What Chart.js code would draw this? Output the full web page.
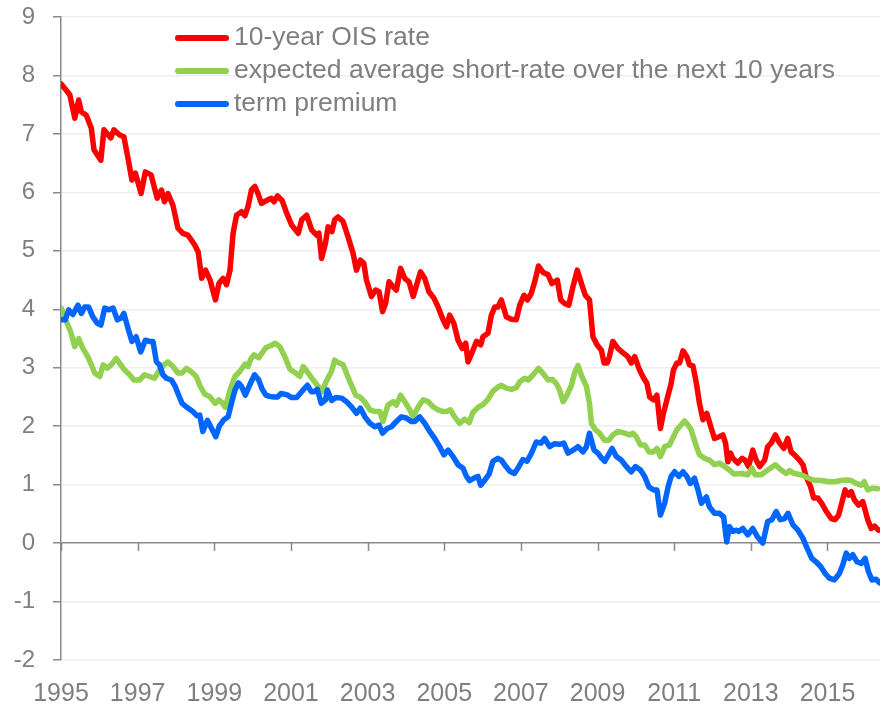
<!DOCTYPE html>
<html>
<head>
<meta charset="utf-8">
<script src="https://cdn.jsdelivr.net/npm/chart.js@4/dist/chart.umd.min.js"></script>
<style>
  html, body { margin: 0; padding: 0; background: #ffffff; }
  #c { display: block; }
</style>
</head>
<body>
<canvas id="c" width="885" height="704"></canvas>
<script>
// ---- series labels ----
const seriesLabels = ['10-year OIS rate', 'expected average short-rate over the next 10 years', 'term premium'];

// ---- x-axis tick labels (years) ----
const xTickYears = [1995, 1997, 1999, 2001, 2003, 2005, 2007, 2009, 2011, 2013, 2015];

// ---- 10-year OIS rate ----
const redDates = [
  1995.01,1995.23,1995.36,1995.46,1995.53,1995.66,1995.79,1995.86,
  1996.04,1996.12,1996.30,1996.38,1996.53,1996.64,1996.75,1996.85,1996.94,
  1997.09,1997.20,1997.35,1997.51,1997.62,1997.70,1997.79,1997.92,
  1998.05,1998.18,1998.31,1998.49,1998.58,1998.67,1998.77,1998.89,
  1999.03,1999.12,1999.23,1999.32,1999.41,1999.49,1999.58,1999.71,1999.80,1999.88,1999.97,
  2000.06,2000.14,2000.23,2000.36,2000.49,2000.56,2000.65,2000.77,2000.89,
  2001.02,2001.19,2001.28,2001.41,2001.54,2001.67,2001.73,2001.80,2001.90,2001.97,
  2002.07,2002.14,2002.23,2002.36,2002.49,2002.62,2002.71,2002.81,2002.90,2002.97,
  2003.10,2003.21,2003.30,2003.39,2003.47,2003.56,2003.66,2003.75,2003.86,2003.97,
  2004.08,2004.19,2004.29,2004.38,2004.49,2004.60,2004.73,2004.84,2004.95,
  2005.06,2005.14,2005.25,2005.36,2005.47,2005.56,2005.62,2005.72,2005.84,2005.95,
  2006.01,2006.14,2006.23,2006.32,2006.40,2006.49,2006.62,2006.75,2006.88,2006.97,
  2007.08,2007.17,2007.27,2007.36,2007.46,2007.58,2007.71,2007.81,2007.95,
  2008.04,2008.14,2008.25,2008.36,2008.47,2008.58,2008.68,2008.79,2008.88,2008.99,
  2009.10,2009.17,2009.25,2009.31,2009.40,2009.53,2009.66,2009.79,2009.88,2009.97,
  2010.08,2010.18,2010.29,2010.36,2010.46,2010.55,2010.64,2010.72,2010.84,2010.92,2010.98,
  2011.07,2011.14,2011.23,2011.33,2011.40,2011.49,2011.58,2011.66,2011.75,2011.85,2011.97,
  2012.05,2012.17,2012.27,2012.34,2012.40,2012.47,2012.53,2012.66,2012.77,2012.85,2012.94,
  2013.05,2013.14,2013.23,2013.36,2013.44,2013.53,2013.64,2013.75,2013.86,2013.96,
  2014.05,2014.14,2014.27,2014.36,2014.44,2014.56,2014.64,2014.75,2014.85,2014.97,
  2015.10,2015.20,2015.29,2015.37,2015.46,2015.55,2015.62,2015.70,2015.81,2015.92,2015.98,
  2016.05,2016.14,2016.23,2016.33
];
const redValues = [
  7.85,7.67,7.27,7.58,7.38,7.32,7.10,6.73,
  6.55,7.07,6.93,7.07,6.98,6.95,6.58,6.21,6.33,
  5.98,6.35,6.30,5.90,6.04,5.84,5.98,5.78,
  5.39,5.30,5.27,5.10,4.98,4.53,4.67,4.50,
  4.16,4.44,4.53,4.42,4.67,5.30,5.61,5.67,5.60,5.76,6.04,
  6.10,5.98,5.81,5.86,5.90,5.84,5.94,5.86,5.64,
  5.44,5.30,5.53,5.61,5.36,5.27,5.30,4.87,5.13,5.41,
  5.33,5.53,5.58,5.50,5.24,4.96,4.67,4.84,4.79,4.50,
  4.22,4.33,4.30,3.96,4.10,4.47,4.39,4.33,4.70,4.53,
  4.47,4.22,4.44,4.64,4.53,4.30,4.19,4.04,3.85,
  3.70,3.90,3.76,3.47,3.33,3.42,3.10,3.25,3.45,3.39,
  3.53,3.59,3.90,4.04,4.04,4.16,3.87,3.83,3.82,4.07,
  4.24,4.16,4.27,4.47,4.74,4.63,4.59,4.44,4.50,
  4.16,4.10,4.07,4.39,4.67,4.44,4.24,4.16,3.53,3.39,
  3.30,3.08,3.08,3.19,3.45,3.33,3.26,3.19,3.08,3.19,
  2.99,2.85,2.73,2.50,2.45,2.53,1.96,2.22,2.53,2.73,2.96,
  3.08,3.08,3.29,3.19,3.05,3.03,2.73,2.39,2.11,2.22,1.96,
  1.79,1.82,1.85,1.71,1.39,1.54,1.45,1.37,1.45,1.42,1.31,
  1.59,1.42,1.31,1.42,1.65,1.71,1.85,1.71,1.62,1.79,
  1.56,1.51,1.42,1.34,1.14,0.96,0.77,0.77,0.68,0.54,
  0.42,0.40,0.48,0.68,0.91,0.82,0.88,0.74,0.65,0.71,0.57,
  0.40,0.25,0.29,0.22
];

// ---- expected average short-rate over the next 10 years ----
const greenDates = [
  1995.01,1995.14,1995.25,1995.36,1995.46,1995.57,1995.70,1995.79,1995.88,
  1996.01,1996.10,1996.21,1996.31,1996.44,1996.56,1996.66,1996.79,1996.90,
  1997.05,1997.18,1997.31,1997.44,1997.57,1997.69,1997.79,1997.92,
  1998.05,1998.16,1998.27,1998.40,1998.53,1998.62,1998.75,1998.89,
  1999.02,1999.12,1999.22,1999.29,1999.41,1999.54,1999.67,1999.80,1999.88,1999.95,
  2000.04,2000.16,2000.34,2000.48,2000.59,2000.71,2000.84,2000.97,
  2001.10,2001.23,2001.32,2001.45,2001.58,2001.71,2001.81,2001.93,
  2002.06,2002.14,2002.20,2002.36,2002.54,2002.69,2002.80,2002.92,
  2003.06,2003.19,2003.32,2003.40,2003.53,2003.67,2003.75,2003.86,2003.97,
  2004.10,2004.19,2004.32,2004.45,2004.58,2004.71,2004.84,2004.97,
  2005.06,2005.16,2005.27,2005.40,2005.53,2005.65,2005.75,2005.88,
  2006.01,2006.14,2006.27,2006.40,2006.49,2006.62,2006.75,2006.88,2006.97,
  2007.10,2007.19,2007.32,2007.46,2007.58,2007.71,2007.83,2007.93,
  2008.01,2008.10,2008.18,2008.32,2008.40,2008.49,2008.59,2008.71,2008.79,2008.84,2008.94,
  2009.05,2009.18,2009.30,2009.40,2009.53,2009.71,2009.84,2009.92,
  2010.01,2010.12,2010.23,2010.34,2010.46,2010.55,2010.64,2010.75,2010.88,2010.98,
  2011.07,2011.18,2011.27,2011.36,2011.44,2011.58,2011.66,2011.79,2011.92,
  2012.05,2012.18,2012.31,2012.44,2012.57,2012.75,2012.92,
  2013.03,2013.11,2013.27,2013.44,2013.64,2013.79,2013.92,
  2014.01,2014.14,2014.31,2014.44,2014.62,2014.84,
  2015.05,2015.18,2015.36,2015.49,2015.62,2015.75,2015.88,2015.96,
  2016.05,2016.18,2016.31
];
const greenValues = [
  4.02,3.79,3.62,3.36,3.50,3.33,3.19,3.05,2.91,
  2.85,3.05,2.99,3.05,3.16,3.05,2.96,2.88,2.79,
  2.79,2.88,2.85,2.82,2.96,3.05,3.10,3.02,
  2.91,2.91,2.99,2.93,2.85,2.70,2.55,2.50,
  2.39,2.45,2.39,2.32,2.62,2.85,2.94,3.06,3.02,3.15,
  3.22,3.17,3.34,3.38,3.42,3.36,3.19,2.98,
  2.92,2.85,3.02,2.91,2.79,2.68,2.59,2.78,
  2.94,3.13,3.10,3.05,2.76,2.53,2.50,2.42,
  2.28,2.25,2.25,2.08,2.36,2.42,2.36,2.53,2.42,
  2.28,2.16,2.33,2.45,2.42,2.33,2.28,2.25,
  2.25,2.28,2.16,2.05,2.12,2.06,2.24,2.32,
  2.37,2.46,2.60,2.67,2.70,2.65,2.63,2.66,2.76,
  2.82,2.79,2.88,2.99,2.90,2.79,2.80,2.72,
  2.62,2.42,2.50,2.70,2.91,3.04,2.85,2.68,2.39,2.05,1.94,
  1.88,1.76,1.76,1.85,1.91,1.88,1.85,1.88,
  1.82,1.68,1.68,1.56,1.56,1.62,1.48,1.65,1.68,1.82,
  1.94,2.02,2.09,2.02,1.94,1.65,1.51,1.45,1.42,
  1.34,1.37,1.31,1.25,1.18,1.19,1.17,
  1.28,1.17,1.17,1.25,1.34,1.25,1.19,
  1.24,1.19,1.17,1.13,1.08,1.07,
  1.05,1.05,1.07,1.08,1.07,1.02,0.99,1.05,
  0.91,0.94,0.93
];

// ---- term premium ----
const blueDates = [
  1995.01,1995.11,1995.20,1995.31,1995.44,1995.53,1995.62,1995.72,1995.83,1995.95,
  1996.04,1996.14,1996.24,1996.36,1996.47,1996.57,1996.64,1996.75,1996.85,1996.96,
  1997.08,1997.20,1997.31,1997.40,1997.49,1997.57,1997.66,1997.75,1997.88,1997.98,
  1998.07,1998.16,1998.31,1998.44,1998.55,1998.62,1998.70,1998.82,1998.93,
  1999.04,1999.13,1999.25,1999.36,1999.45,1999.54,1999.63,1999.71,1999.81,1999.92,
  2000.05,2000.16,2000.25,2000.35,2000.44,2000.55,2000.65,2000.74,2000.89,
  2001.02,2001.15,2001.28,2001.43,2001.53,2001.60,2001.69,2001.79,2001.90,2001.95,
  2002.06,2002.17,2002.32,2002.45,2002.58,2002.71,2002.81,2002.93,
  2003.06,2003.19,2003.30,2003.39,2003.51,2003.62,2003.75,2003.88,
  2004.01,2004.14,2004.23,2004.36,2004.49,2004.62,2004.75,2004.88,2004.99,
  2005.10,2005.23,2005.36,2005.49,2005.58,2005.66,2005.80,2005.88,2005.95,
  2006.06,2006.17,2006.27,2006.40,2006.49,2006.62,2006.71,2006.83,2006.92,
  2007.05,2007.16,2007.27,2007.40,2007.52,2007.62,2007.75,2007.88,
  2008.01,2008.12,2008.23,2008.36,2008.49,2008.62,2008.71,2008.79,2008.91,
  2009.01,2009.11,2009.19,2009.26,2009.38,2009.49,2009.62,2009.75,2009.88,2009.99,
  2010.12,2010.23,2010.34,2010.46,2010.55,2010.64,2010.75,2010.84,2010.92,
  2011.01,2011.12,2011.23,2011.33,2011.42,2011.53,2011.62,2011.71,2011.84,2011.92,
  2012.05,2012.18,2012.29,2012.37,2012.44,2012.53,2012.63,2012.68,2012.79,2012.92,
  2013.05,2013.17,2013.31,2013.44,2013.55,2013.66,2013.77,2013.88,2013.97,
  2014.10,2014.23,2014.36,2014.47,2014.59,2014.70,2014.82,2014.94,
  2015.05,2015.18,2015.31,2015.40,2015.49,2015.57,2015.66,2015.77,2015.88,2015.98,
  2016.07,2016.16,2016.27,2016.36
];
const blueValues = [
  3.82,3.82,3.99,3.91,4.07,3.93,4.04,4.04,3.87,3.76,
  3.73,4.02,3.99,4.02,3.82,3.85,3.93,3.67,3.45,3.53,
  3.27,3.47,3.45,3.45,3.10,3.05,2.88,2.82,2.79,2.68,
  2.53,2.39,2.31,2.25,2.18,2.19,1.91,2.10,1.96,
  1.82,2.00,2.11,2.16,2.40,2.62,2.74,2.68,2.53,2.70,
  2.88,2.79,2.63,2.53,2.51,2.50,2.50,2.56,2.54,
  2.49,2.49,2.59,2.70,2.59,2.59,2.63,2.39,2.45,2.62,
  2.44,2.49,2.48,2.42,2.33,2.22,2.31,2.16,
  2.05,1.99,2.02,1.88,1.96,1.99,2.08,2.16,
  2.14,2.08,2.08,2.16,2.05,1.91,1.79,1.65,1.51,
  1.59,1.48,1.34,1.28,1.14,1.07,1.12,1.14,0.99,
  1.08,1.18,1.40,1.45,1.42,1.30,1.23,1.19,1.28,
  1.43,1.40,1.53,1.73,1.71,1.79,1.65,1.70,
  1.69,1.71,1.54,1.59,1.65,1.56,1.65,1.88,1.59,
  1.54,1.45,1.40,1.48,1.62,1.48,1.42,1.31,1.22,1.31,
  1.25,1.14,0.96,0.91,0.91,0.48,0.68,0.96,1.14,
  1.22,1.14,1.22,1.14,1.02,1.11,0.91,0.68,0.79,0.62,
  0.51,0.51,0.45,0.02,0.28,0.20,0.22,0.20,0.25,0.14,
  0.25,0.11,0.00,0.37,0.40,0.54,0.40,0.42,0.51,
  0.31,0.22,0.08,-0.09,-0.26,-0.32,-0.40,-0.52,
  -0.60,-0.63,-0.52,-0.37,-0.17,-0.26,-0.20,-0.32,-0.35,-0.26,
  -0.49,-0.63,-0.62,-0.68
];

const seriesColors = ['#FF0000', '#92D050', '#0066FF'];
const axisGrey = '#898989';
const textGrey = '#7F7F7F';
const gridGrey = '#EDEDED';

function pairs(dates, values) {
  return dates.map((d, i) => ({ x: d, y: values[i] }));
}

// x-axis line crosses at y = 0 with tick marks hanging below it
const zeroAxisTicks = {
  id: 'zeroAxisTicks',
  beforeDatasetsDraw(chart) {
    const { ctx, scales } = chart;
    const y0 = scales.y.getPixelForValue(0);
    ctx.save();
    ctx.strokeStyle = axisGrey;
    ctx.lineWidth = 1.5;
    ctx.beginPath();
    xTickYears.forEach(v => {
      const px = Math.round(scales.x.getPixelForValue(v)) + 0.5;
      ctx.moveTo(px, y0);
      ctx.lineTo(px, y0 + 8);
    });
    ctx.stroke();
    ctx.restore();
  }
};

// legend drawn inside the plot area, top
const insideLegend = {
  id: 'insideLegend',
  afterDraw(chart) {
    const { ctx } = chart;
    const x0 = 178, x1 = 226, tx = 234;
    const rows = [38, 71, 104];
    ctx.save();
    ctx.font = '26.5px "Liberation Sans", Arial, sans-serif';
    ctx.textBaseline = 'middle';
    ctx.textAlign = 'left';
    chart.data.datasets.forEach((ds, i) => {
      const y = rows[i];
      ctx.strokeStyle = ds.borderColor;
      ctx.lineWidth = 6;
      ctx.lineCap = 'round';
      ctx.beginPath();
      ctx.moveTo(x0, y);
      ctx.lineTo(x1, y);
      ctx.stroke();
      ctx.fillStyle = textGrey;
      ctx.fillText(ds.label, tx, y);
    });
    ctx.restore();
  }
};

const commonLine = {
  borderWidth: 5.5,
  pointRadius: 0,
  pointHoverRadius: 0,
  tension: 0,
  fill: false,
  borderJoinStyle: 'round',
  borderCapStyle: 'round'
};

new Chart(document.getElementById('c'), {
  type: 'line',
  data: {
    datasets: [
      { ...commonLine, label: seriesLabels[0], data: pairs(redDates, redValues), borderColor: seriesColors[0], order: 3 },
      { ...commonLine, label: seriesLabels[1], data: pairs(greenDates, greenValues), borderColor: seriesColors[1], order: 2 },
      { ...commonLine, label: seriesLabels[2], data: pairs(blueDates, blueValues), borderColor: seriesColors[2], order: 1 }
    ]
  },
  options: {
    responsive: false,
    animation: false,
    devicePixelRatio: 1,
    layout: { padding: { top: 17, right: 5, left: 0, bottom: 0 } },
    plugins: { legend: { display: false }, tooltip: { enabled: false } },
    scales: {
      x: {
        type: 'linear',
        min: 1995,
        max: 2016.37,
        afterBuildTicks(scale) { scale.ticks = xTickYears.map(v => ({ value: v })); },
        afterFit(scale) { scale.height = 44; scale.paddingLeft = 0; scale.paddingRight = 0; },
        grid: { display: false },
        border: { display: false },
        ticks: {
          autoSkip: false,
          maxRotation: 0,
          padding: 11,
          color: textGrey,
          font: { family: '"Liberation Sans", Arial, sans-serif', size: 25 },
          callback: v => String(v)
        }
      },
      y: {
        min: -2,
        max: 9,
        afterFit(scale) { scale.width = 61; scale.paddingTop = 0; scale.paddingBottom = 0; },
        grid: {
          color: c => (c.tick && c.tick.value === 0) ? axisGrey : gridGrey,
          lineWidth: 1.5,
          tickColor: axisGrey,
          tickLength: 8,
          drawTicks: true
        },
        border: { display: true, color: axisGrey, width: 1.5 },
        ticks: {
          stepSize: 1,
          padding: 18,
          color: textGrey,
          font: { family: '"Liberation Sans", Arial, sans-serif', size: 24 }
        }
      }
    }
  },
  plugins: [zeroAxisTicks, insideLegend]
});
</script>
</body>
</html>
